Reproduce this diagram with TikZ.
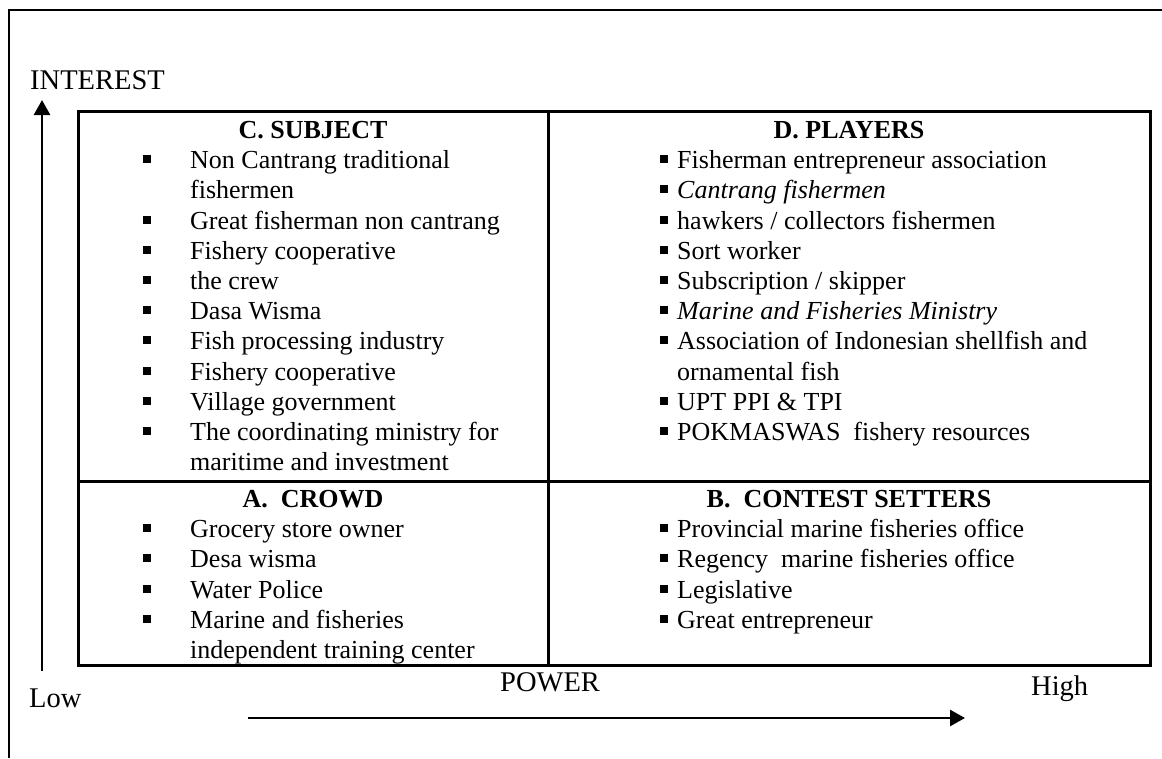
\documentclass[tikz,border=0pt]{standalone}
\usepackage{fontspec}
\setmainfont{Liberation Serif}
\usetikzlibrary{arrows.meta}
\begin{document}
\begin{tikzpicture}[x=1pt,y=-1pt,
  body/.style={anchor=base west, inner sep=0pt, font=\fontsize{26}{30}\selectfont},
  head/.style={anchor=base, inner sep=0pt, font=\fontsize{26}{30}\selectfont\bfseries},
  axislabel/.style={anchor=base west, inner sep=0pt, font=\fontsize{28.5}{34}\selectfont},
  sq/.style={rectangle, fill=black, draw=none, inner sep=0pt, minimum size=8pt},
  rule/.style={line width=3pt},
  axis/.style={line width=2.6pt, -{Triangle[length=15pt,width=16pt]}}]
\useasboundingbox (0,0) rectangle (1162,758);

% page frame (open to the right and bottom)
\draw[line width=2.8pt] (9,758) -- (9,10) -- (1162,10);

% quadrant table
\coordinate (tl) at (78,111);
\coordinate (br) at (1150,665);
\draw[rule] (tl) rectangle (br);
\draw[rule] (548,111) -- (548,665);
\draw[rule] (78,481) -- (1150,481);

% quadrant headings
\node[head] (hC) at (313,138.5) {C. SUBJECT};
\node[head] (hD) at (849,138.5) {D. PLAYERS};
\node[head] (hA) at (313,507.5) {A.\ \ CROWD};
\node[head] (hB) at (849,507.5) {B.\ \ CONTEST SETTERS};

% C. SUBJECT
\node[sq] (cb1) at (147,159.2) {};
\node[body] (c1) at (190,168.7) {Non Cantrang traditional};
\node[body] (c1x) at (190,198.9) {fishermen};
\node[sq] (cb2) at (147,219.6) {};
\node[body] (c2) at (190,229.1) {Great fisherman non cantrang};
\node[sq] (cb3) at (147,249.8) {};
\node[body] (c3) at (190,259.3) {Fishery cooperative};
\node[sq] (cb4) at (147,280.0) {};
\node[body] (c4) at (190,289.5) {the crew};
\node[sq] (cb5) at (147,310.2) {};
\node[body] (c5) at (190,319.7) {Dasa Wisma};
\node[sq] (cb6) at (147,340.4) {};
\node[body] (c6) at (190,349.9) {Fish processing industry};
\node[sq] (cb7) at (147,370.6) {};
\node[body] (c7) at (190,380.1) {Fishery cooperative};
\node[sq] (cb8) at (147,400.8) {};
\node[body] (c8) at (190,410.3) {Village government};
\node[sq] (cb9) at (147,431.0) {};
\node[body] (c9) at (190,440.5) {The coordinating ministry for};
\node[body] (c9x) at (190,470.7) {maritime and investment};

% D. PLAYERS
\node[sq] (db1) at (664,159.2) {};
\node[body] (d1) at (677,168.7) {Fisherman entrepreneur association};
\node[sq] (db2) at (664,189.4) {};
\node[body] (d2) at (677,198.9) {\itshape Cantrang fishermen};
\node[sq] (db3) at (664,219.6) {};
\node[body] (d3) at (677,229.1) {hawkers / collectors fishermen};
\node[sq] (db4) at (664,249.8) {};
\node[body] (d4) at (677,259.3) {Sort worker};
\node[sq] (db5) at (664,280.0) {};
\node[body] (d5) at (677,289.5) {Subscription / skipper};
\node[sq] (db6) at (664,310.2) {};
\node[body] (d6) at (677,319.7) {\itshape Marine and Fisheries Ministry};
\node[sq] (db7) at (664,340.4) {};
\node[body] (d7) at (677,349.9) {Association of Indonesian shellfish and};
\node[body] (d7x) at (677,380.1) {ornamental fish};
\node[sq] (db8) at (664,400.8) {};
\node[body] (d8) at (677,410.3) {UPT PPI \& TPI};
\node[sq] (db9) at (664,431.0) {};
\node[body] (d9) at (677,440.5) {POKMASWAS\ \ fishery resources};

% A. CROWD
\node[sq] (ab1) at (147,528.2) {};
\node[body] (a1) at (190,537.7) {Grocery store owner};
\node[sq] (ab2) at (147,558.4) {};
\node[body] (a2) at (190,567.9) {Desa wisma};
\node[sq] (ab3) at (147,588.6) {};
\node[body] (a3) at (190,598.1) {Water Police};
\node[sq] (ab4) at (147,618.8) {};
\node[body] (a4) at (190,628.3) {Marine and fisheries};
\node[body] (a4x) at (190,658.0) {independent training center};

% B. CONTEST SETTERS
\node[sq] (bb1) at (664,528.2) {};
\node[body] (b1) at (677,537.7) {Provincial marine fisheries office};
\node[sq] (bb2) at (664,558.4) {};
\node[body] (b2) at (677,567.9) {Regency\ \ marine fisheries office};
\node[sq] (bb3) at (664,588.6) {};
\node[body] (b3) at (677,598.1) {Legislative};
\node[sq] (bb4) at (664,618.8) {};
\node[body] (b4) at (677,628.3) {Great entrepreneur};

% axes
\node[axislabel] (interest) at (30,89) {INTEREST};
\node[axislabel] (low) at (29,707) {Low};
\node[axislabel] (power) at (500,691) {POWER};
\node[axislabel] (high) at (1031,695) {High};

\coordinate (vStart) at (42,671);
\coordinate (vEnd) at (42,100);
\draw[axis] (vStart) -- (vEnd);
\coordinate (hStart) at (248,718);
\coordinate (hEnd) at (965,718);
\draw[axis] (hStart) -- (hEnd);
\end{tikzpicture}
\end{document}
